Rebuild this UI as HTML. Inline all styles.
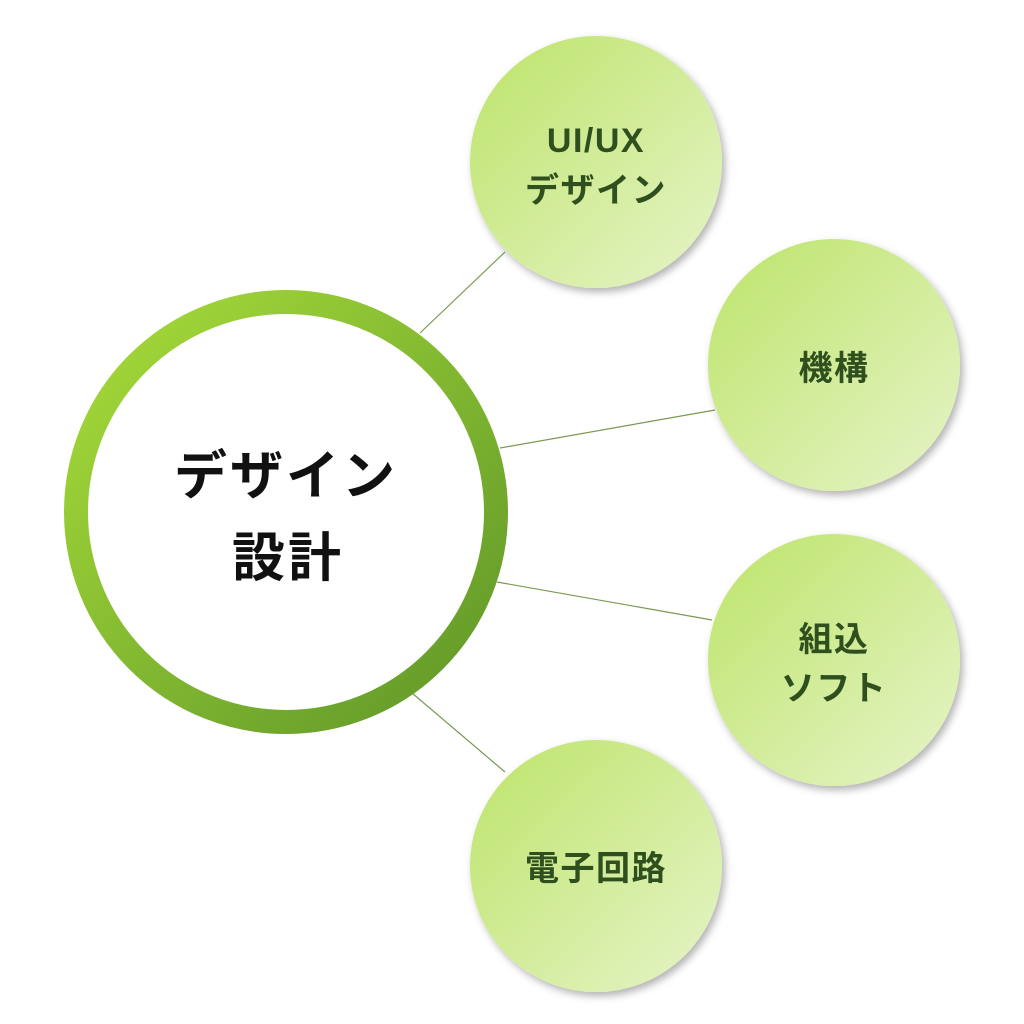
<!DOCTYPE html>
<html><head><meta charset="utf-8"><style>
html,body{margin:0;padding:0;background:#fff;width:1024px;height:1024px;overflow:hidden}
text{font-family:"Liberation Sans","Noto Sans CJK JP",sans-serif;font-weight:bold}
</style></head><body>
<svg width="1024" height="1024" viewBox="0 0 1024 1024" xmlns="http://www.w3.org/2000/svg">
<defs>
<linearGradient id="ring" x1="0" y1="0" x2="1" y2="1">
<stop offset="0" stop-color="#a8dc3a"/><stop offset="1" stop-color="#5e9628"/></linearGradient>
<linearGradient id="bub" x1="0" y1="0" x2="1" y2="1">
<stop offset="0" stop-color="#bde46a"/><stop offset="1" stop-color="#e6f4c8"/></linearGradient>
<filter id="sh" x="-20%" y="-20%" width="140%" height="140%"><feDropShadow dx="3" dy="4" stdDeviation="4" flood-color="#000" flood-opacity="0.3"/></filter>
</defs>
<g stroke="#7a9a50" stroke-width="1.2">
<line x1="420" y1="333" x2="505" y2="252"/>
<line x1="500" y1="448" x2="715" y2="410"/>
<line x1="497" y1="582" x2="712" y2="620"/>
<line x1="412" y1="693" x2="505" y2="772"/>
</g>
<circle cx="286" cy="512" r="210" fill="#fff" stroke="url(#ring)" stroke-width="24"/>
<text x="286" y="494" font-size="53" letter-spacing="3" text-anchor="middle" fill="#111">デザイン</text>
<text x="288" y="576" font-size="53" letter-spacing="3" text-anchor="middle" fill="#111">設計</text>
<g filter="url(#sh)">
<circle cx="596" cy="162" r="126" fill="url(#bub)"/>
<circle cx="834" cy="365" r="126" fill="url(#bub)"/>
<circle cx="834" cy="660" r="126" fill="url(#bub)"/>
<circle cx="596" cy="866" r="126" fill="url(#bub)"/>
</g>
<g fill="#2f4f1f" font-size="34" letter-spacing="1.5" text-anchor="middle" style="font-weight:500">
<text x="596" y="152">UI/UX</text>
<text x="596" y="202">デザイン</text>
<text x="834" y="380">機構</text>
<text x="834" y="651">組込</text>
<text x="834" y="700">ソフト</text>
<text x="596" y="880">電子回路</text>
</g>
</svg>
</body></html>
